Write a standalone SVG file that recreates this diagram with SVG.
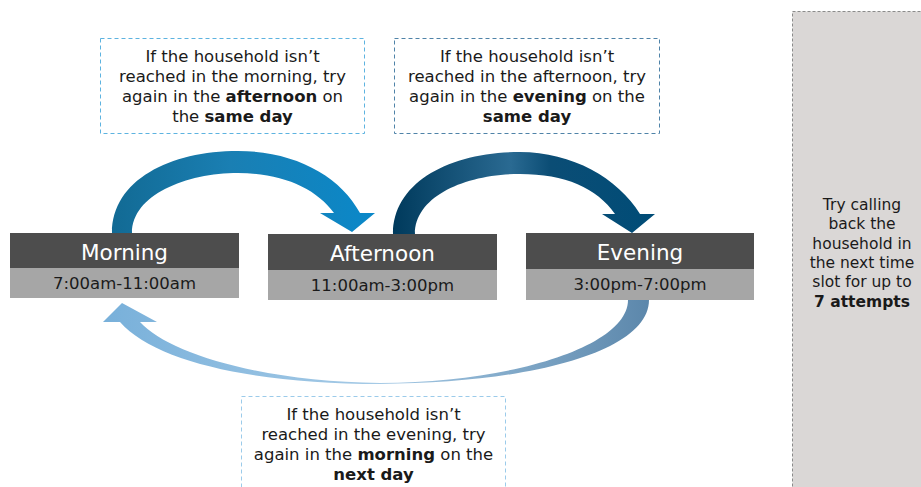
<svg xmlns="http://www.w3.org/2000/svg" width="921" height="487" viewBox="0 0 921 487">
<style>
text{font-family:"DejaVu Sans",Verdana,sans-serif;fill:#1a1a1a;text-anchor:middle}
.note{font-size:16.5px}
.side{font-size:15.5px}
.b{font-weight:bold}
.hdr{fill:#4d4d4d}
.sub{fill:#a6a6a6}
.ht{font-size:21.5px;fill:#ffffff}
.st{font-size:16.5px}
.call{fill:#ffffff;stroke-width:1;stroke-dasharray:4 3}
</style>
<defs>
<linearGradient id="g1" x1="112" y1="0" x2="375" y2="0" gradientUnits="userSpaceOnUse">
<stop offset="0" stop-color="#126a94"/><stop offset="0.45" stop-color="#1a7fb3"/><stop offset="1" stop-color="#0a88c9"/>
</linearGradient>
<linearGradient id="g2" x1="393" y1="0" x2="655" y2="0" gradientUnits="userSpaceOnUse">
<stop offset="0" stop-color="#003a5c"/><stop offset="0.45" stop-color="#2a6a92"/><stop offset="0.6" stop-color="#0b4d75"/><stop offset="1" stop-color="#004c77"/>
</linearGradient>
<linearGradient id="g3" x1="103" y1="0" x2="649" y2="0" gradientUnits="userSpaceOnUse">
<stop offset="0" stop-color="#78b0da"/><stop offset="0.5" stop-color="#a5cae6"/><stop offset="1" stop-color="#5c87ab"/>
</linearGradient>
</defs>

<g id="connectors">
<path d="M112,233 C112,180 170,151 238,151 C295,151 340,176 360,213 L375,213 L352,232 L320,213 L334,213 C316,188 282,173 238,173 C186,173 132,195 132,233 Z" fill="url(#g1)"/>
<path d="M393,234 C393,182 450,152 520,152 C572,152 618,178 640,214 L655,214 L632,233 L602,214 L615,214 C597,188 565,174 520,174 C466,174 415,196 415,234 Z" fill="url(#g2)"/>
<path d="M649,300 C649,352 530,383 380,384 C255,384 155,362 120,322 L103,322 L122,303 L157,322 L140,322 C168,353 262,382 380,383 C518,382 628,345 628,300 Z" fill="url(#g3)"/>
</g>

<g id="morning">
<rect class="hdr" x="10" y="233" width="229" height="35"/>
<rect class="sub" x="10" y="268" width="229" height="30"/>
<text class="ht" x="124.5" y="260">Morning</text>
<text class="st" x="124.5" y="289">7:00am-11:00am</text>
</g>

<g id="afternoon">
<rect class="hdr" x="268" y="234" width="229" height="36"/>
<rect class="sub" x="268" y="270" width="229" height="30"/>
<text class="ht" x="382.5" y="261">Afternoon</text>
<text class="st" x="382.5" y="291">11:00am-3:00pm</text>
</g>

<g id="evening">
<rect class="hdr" x="526" y="233" width="228" height="36"/>
<rect class="sub" x="526" y="269" width="228" height="31"/>
<text class="ht" x="640" y="260">Evening</text>
<text class="st" x="640" y="290">3:00pm-7:00pm</text>
</g>

<g id="note-morning">
<rect class="call" x="100.5" y="38.5" width="264" height="95" stroke="#5db3e0"/>
<text class="note" x="232.5" y="62">If the household isn’t</text>
<text class="note" x="232.5" y="82">reached in the morning, try</text>
<text class="note" x="232.5" y="102">again in the <tspan class="b">afternoon</tspan> on</text>
<text class="note" x="232.5" y="122">the <tspan class="b">same day</tspan></text>
</g>

<g id="note-afternoon">
<rect class="call" x="394.5" y="38.5" width="265" height="95" stroke="#4f83a8"/>
<text class="note" x="527" y="62">If the household isn’t</text>
<text class="note" x="527" y="82">reached in the afternoon, try</text>
<text class="note" x="527" y="102">again in the <tspan class="b">evening</tspan> on the</text>
<text class="note" x="527" y="122"><tspan class="b">same day</tspan></text>
</g>

<g id="note-evening">
<rect class="call" x="241.5" y="396.5" width="264" height="100" stroke="#9bcbea"/>
<text class="note" x="373.5" y="420">If the household isn’t</text>
<text class="note" x="373.5" y="440">reached in the evening, try</text>
<text class="note" x="373.5" y="460">again in the <tspan class="b">morning</tspan> on the</text>
<text class="note" x="373.5" y="480"><tspan class="b">next day</tspan></text>
</g>

<g id="side-panel">
<rect x="792.5" y="11.5" width="140" height="490" fill="#dad7d6" stroke="#8a8a8a" stroke-width="1" stroke-dasharray="3 2"/>
<text class="side" x="862" y="210">Try calling</text>
<text class="side" x="862" y="229">back the</text>
<text class="side" x="862" y="249">household in</text>
<text class="side" x="862" y="268">the next time</text>
<text class="side" x="862" y="287">slot for up to</text>
<text class="side b" x="862" y="307">7 attempts</text>
</g>
</svg>
